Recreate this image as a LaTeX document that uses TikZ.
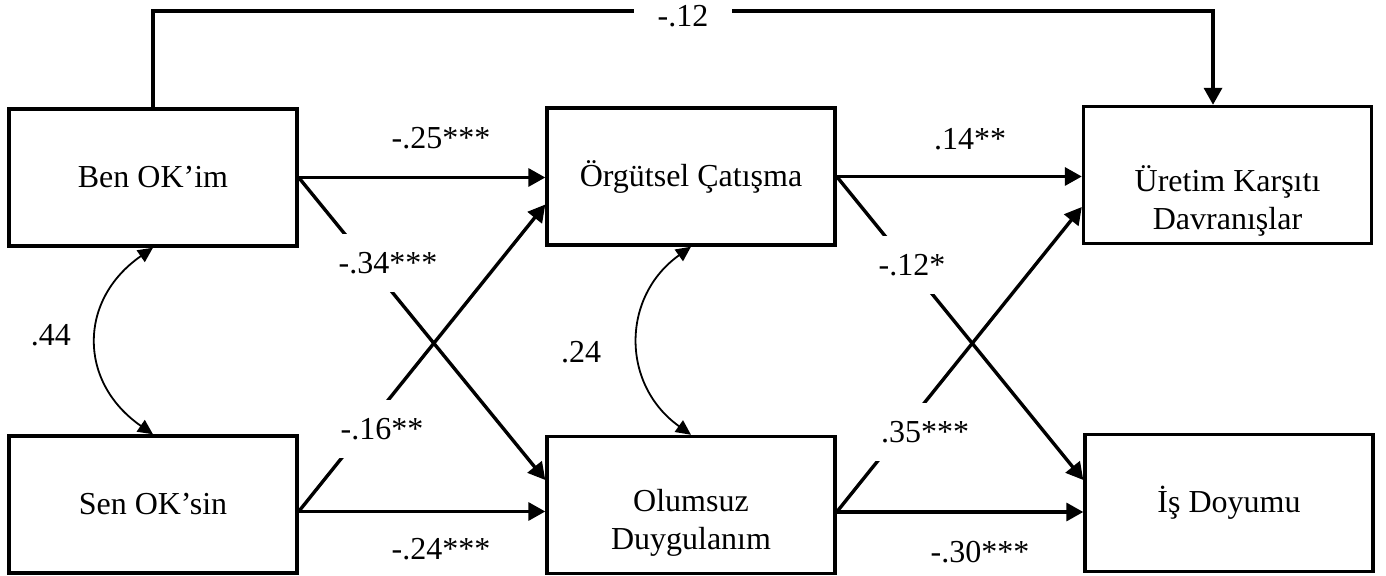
\documentclass[tikz,border=0pt]{standalone}
\usepackage{fontspec}
\setmainfont{Liberation Serif}
\usetikzlibrary{arrows.meta}
\begin{document}
\begin{tikzpicture}[x=0.5pt,y=-0.5pt,
  every node/.style={font=\fontsize{16pt}{19pt}\selectfont},
  box/.style={draw, line width=1.7pt, minimum width=144pt, minimum height=68.5pt, inner sep=0pt, align=center},
  conn/.style={line width=1.7pt, -{Triangle[length=8.5pt,width=9pt]}},
  corr/.style={line width=0.9pt, {Triangle[length=7.5pt,width=7pt]}-{Triangle[length=7.5pt,width=7pt]}},
  coef/.style={inner sep=0pt},
  coefw/.style={fill=white, inner xsep=3pt, inner ysep=9pt},
  twoline/.style={align=center, inner sep=0pt}
]
\useasboundingbox (0,0) rectangle (1386,576);

% boxes
\node[box] (Ben) at (153,177.5) {Ben OK’im};
\node[box] (Sen) at (153,504.5) {Sen OK’sin};
\node[box] (Org) at (691,176.5) {Örgütsel Çatışma};
\node[box] (Olum) at (691,505) {};
\node[twoline] (OlumT) at (691,523) {Olumsuz\\Duygulanım};
\node[box] (Uret) at (1227.5,175) {};
\node[twoline] (UretT) at (1227.5,201) {Üretim Karşıtı\\Davranışlar};
\node[box] (Is) at (1229,503) {İş Doyumu};

% anchor points
\coordinate (SenR) at ([yshift=-3.5pt]Sen.east);
\coordinate (OlumR) at ([yshift=-3.5pt]Olum.east);
\coordinate (tl) at (153,11);
\coordinate (tr) at (1213,11);

% paths
\draw[conn] (Ben.east) -- (Ben.east -| Org.west);
\draw[conn] (Ben.east) -- ([yshift=12.5pt]Olum.west);
\draw[conn] (SenR) -- (SenR -| Olum.west);
\draw[conn] (SenR) -- ([yshift=-14pt]Org.west);
\draw[conn] (Org.east) -- (Org.east -| Uret.west);
\draw[conn] (Org.east) -- ([yshift=11.5pt]Is.west);
\draw[conn] (OlumR) -- (OlumR -| Is.west);
\draw[conn] (OlumR) -- ([yshift=-16pt]Uret.west);
\draw[conn] (Ben.north) -- (tl) -- node[fill=white, inner xsep=12pt, inner ysep=2pt, yshift=-2.5pt] (c0) {-.12} (tr) -- (tr |- Uret.north);

% correlations
\draw[corr] (Ben.south) .. controls +(-75,52) and +(-75,-52) .. (Sen.north);
\draw[corr] (Org.south) .. controls +(-70,50) and +(-70,-50) .. (Olum.north);

% coefficients
\node[coef] (c1) at (441,138) {-.25***};
\node[coefw] (c2) at (388,263) {-.34***};
\node[coefw] (c3) at (382,429) {-.16**};
\node[coef] (c4) at (441,549) {-.24***};
\node[coef] (c5) at (970,139) {.14**};
\node[coefw] (c6) at (912,265) {-.12*};
\node[coefw] (c7) at (925,432) {.35***};
\node[coef] (c8) at (980,552) {-.30***};
\node[coef] (c9) at (51,335) {.44};
\node[coef] (c10) at (581,352) {.24};
\end{tikzpicture}
\end{document}
